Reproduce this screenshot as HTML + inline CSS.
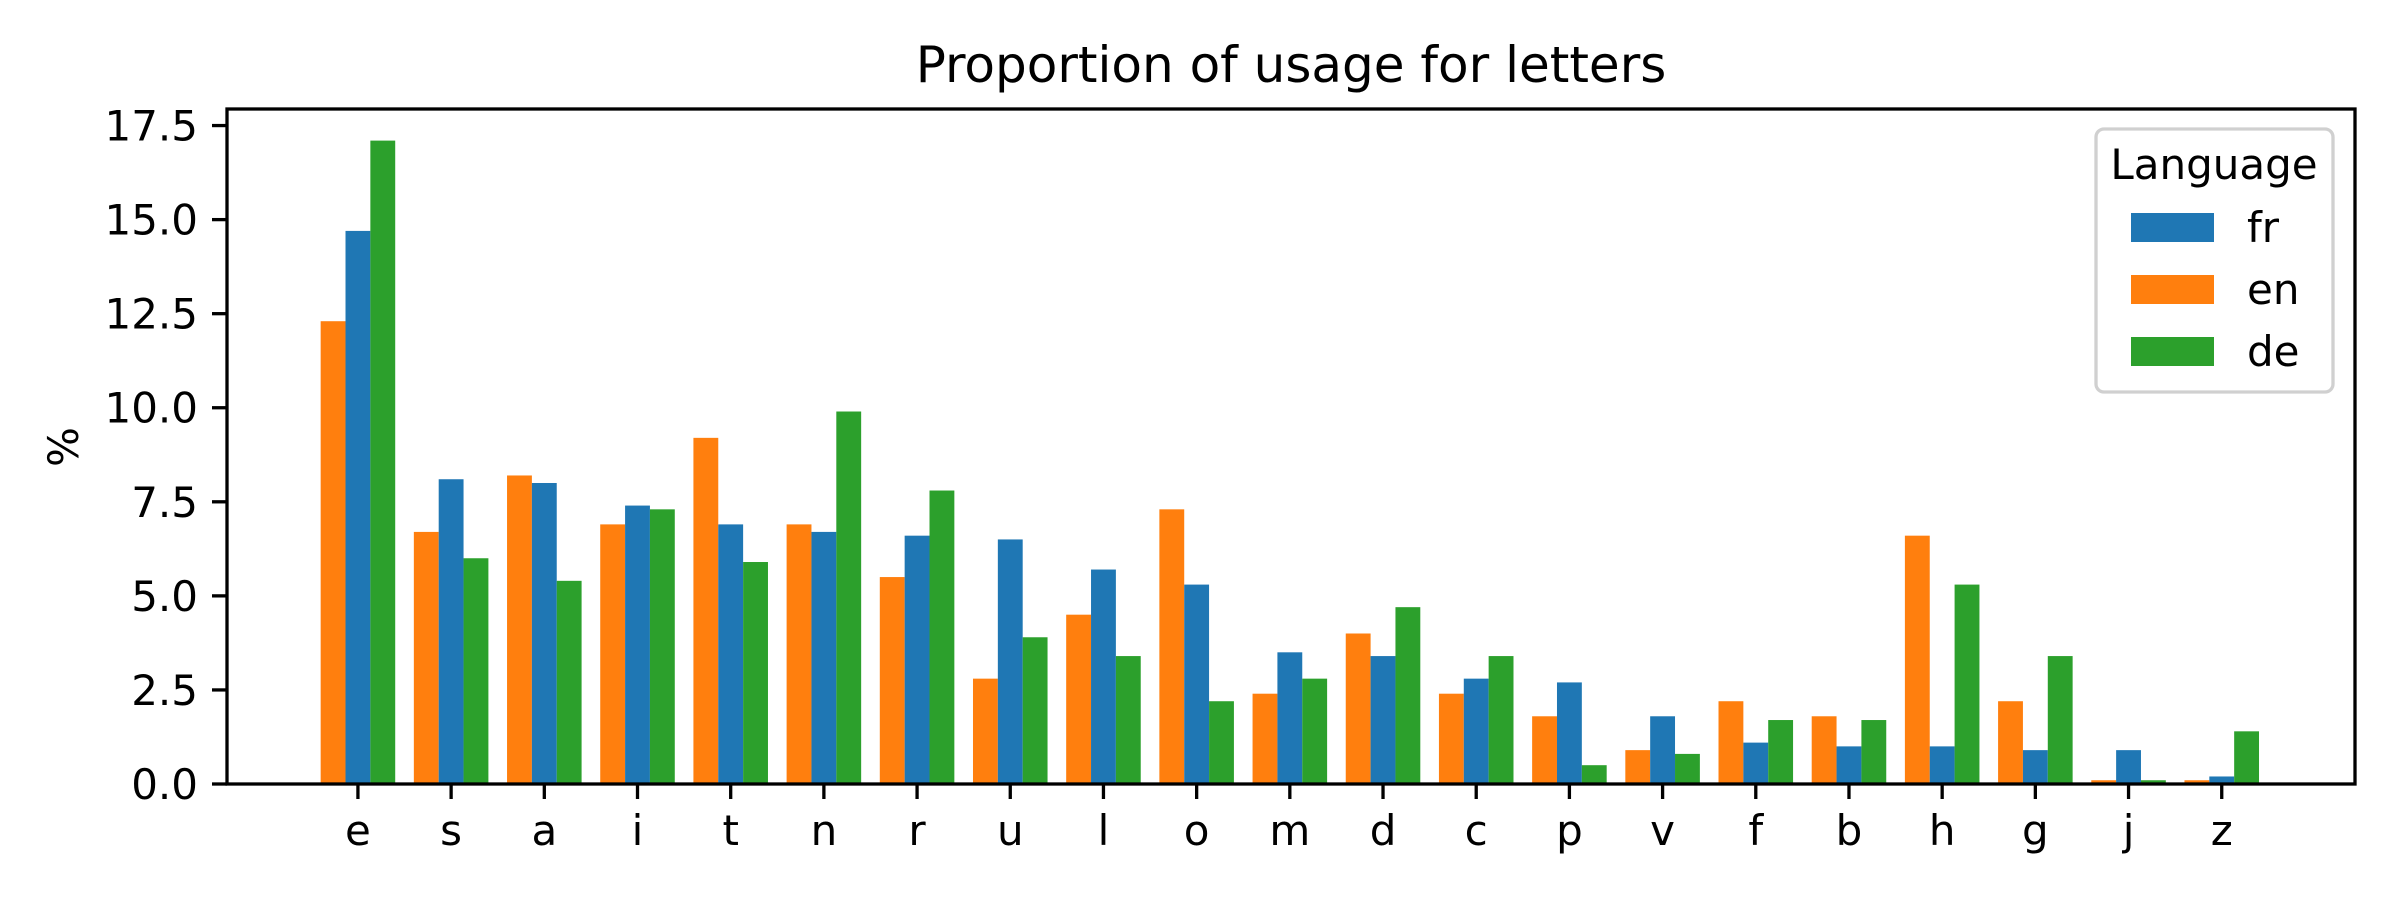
<!DOCTYPE html>
<html><head><meta charset="utf-8"><style>
html,body{margin:0;padding:0;background:#fff;}
svg text{font-family:"DejaVu Sans","Liberation Sans",sans-serif;fill:#000;}
</style></head><body>
<svg id="chart" width="2400" height="900" xmlns="http://www.w3.org/2000/svg">
<rect width="2400" height="900" fill="#fff"/>
<text x="1291" y="82" font-size="50" text-anchor="middle">Proportion of usage for letters</text>
<text x="0" y="0" font-size="42" text-anchor="middle" transform="translate(78,447) rotate(-90)">%</text>
<g id="bars"></g>
<g id="yticks"></g>
<g id="xticks"></g>
<rect x="227" y="109" width="2128" height="675" fill="none" stroke="#000" stroke-width="3.3"/>
<g id="legend">
<rect x="2096" y="129" width="237" height="263" rx="8" fill="#fff" fill-opacity="0.8" stroke="#d0d0d0" stroke-width="3.3"/>
<text x="2214" y="179" font-size="42" text-anchor="middle">Language</text>
</g>
</svg>
<script>
const categories = ["e","s","a","i","t","n","r","u","l","o","m","d","c","p","v","f","b","h","g","j","z"];
const frValues = [14.7,8.1,8.0,7.4,6.9,6.7,6.6,6.5,5.7,5.3,3.5,3.4,2.8,2.7,1.8,1.1,1.0,1.0,0.9,0.9,0.2];
const enValues = [12.3,6.7,8.2,6.9,9.2,6.9,5.5,2.8,4.5,7.3,2.4,4.0,2.4,1.8,0.9,2.2,1.8,6.6,2.2,0.1,0.1];
const deValues = [17.1,6.0,5.4,7.3,5.9,9.9,7.8,3.9,3.4,2.2,2.8,4.7,3.4,0.5,0.8,1.7,1.7,5.3,3.4,0.1,1.4];
const yTicks = [0,2.5,5,7.5,10,12.5,15,17.5];
const seriesNames = ["fr","en","de"];

const NS="http://www.w3.org/2000/svg";
const L=227,R=2355,T=109,B=784;
const xMin=-1.405,xMax=categories.length+0.43,yMax=17.94;
const xs=i=>L+(i-xMin)/(xMax-xMin)*(R-L);
const ys=v=>B-v/yMax*(B-T);
const colors={fr:"#1f77b4",en:"#ff7f0e",de:"#2ca02c"};
const offsets={en:-1,fr:0,de:1};
const data={fr:frValues,en:enValues,de:deValues};
const bw=0.8/3;
function mk(tag,attrs,parent){const e=document.createElementNS(NS,tag);for(const k in attrs)e.setAttribute(k,attrs[k]);parent.appendChild(e);return e;}
const gb=document.getElementById('bars');
["en","fr","de"].forEach(s=>{
  data[s].forEach((v,i)=>{
    const c=i+offsets[s]*bw;
    const x0=xs(c-bw/2),x1=xs(c+bw/2);
    const r=mk('rect',{x:x0,y:ys(v),width:x1-x0,height:B-ys(v),fill:colors[s]},gb);
    
    
  });
});
const gy=document.getElementById('yticks');
yTicks.forEach(t=>{
  const y=ys(t);
  const l=mk('line',{x1:L-15,x2:L,y1:y,y2:y,stroke:"#000","stroke-width":3.3},gy);
  
  
  const tx=mk('text',{x:L-29,y:y+15,"font-size":42,"text-anchor":"end"},gy);
  tx.textContent=t.toFixed(1);
  
  
});
const gx=document.getElementById('xticks');
categories.forEach((c,i)=>{
  const x=xs(i);
  const l=mk('line',{x1:x,x2:x,y1:B,y2:B+15,stroke:"#000","stroke-width":3.3},gx);
  
  
  const tx=mk('text',{x:x,y:B+61,"font-size":42,"text-anchor":"middle"},gx);
  tx.textContent=c;
  
  
});
const lg=document.getElementById('legend');
seriesNames.forEach((s,k)=>{
  const y=227+k*62;
  const p=mk('rect',{x:2131,y:y-14,width:83,height:29,fill:colors[s]},lg);
  
  
  const t=mk('text',{x:2247,y:y+15,"font-size":42},lg);
  t.textContent=s;
  
  
});
</script>
</body></html>
